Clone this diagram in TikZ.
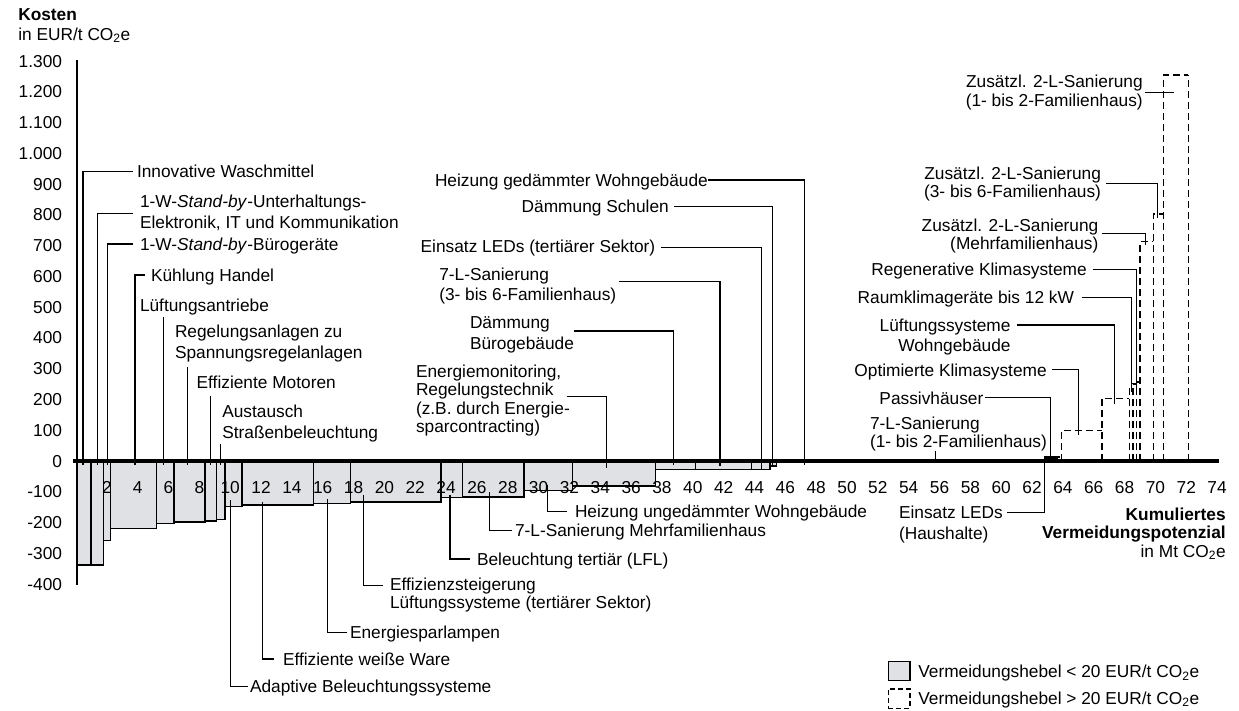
\documentclass[tikz,border=0pt]{standalone}
\usepackage{fontspec}
\setmainfont{Liberation Sans}
\usetikzlibrary{calc}
\definecolor{barfill}{RGB}{224,225,228}
% multi-line label whose baseline is that of its first line
\newcommand{\lblock}[2][l]{\begin{tabular}[t]{@{}#1@{}}#2\end{tabular}}

\begin{document}
\begin{tikzpicture}[x=1pt,y=-1pt,
  every node/.style={inner sep=0pt, outer sep=0pt, font=\fontsize{17.3}{20.5}\selectfont},
  tight/.style={font=\fontsize{17.3}{18.4}\selectfont},
  lab/.style={anchor=base west},
  rlab/.style={anchor=base east},
  lead/.style={draw=black, line width=1.3pt},
  solidbar/.style={draw=black, line width=1.2pt, fill=barfill},
  dashbar/.style={draw=black, line width=1.3pt, dash pattern=on 7pt off 4pt},
]
\useasboundingbox (0,0) rectangle (1239,710);

% ---- bars below 20 EUR/t (filled) ----
\foreach \xa/\xb/\yb in {77/91/565, 91/103.3/565, 103.3/110.7/540.7, 110.7/156.7/528.3,
  156.7/174/523.3, 174/205/522, 205/216.7/521, 216.7/225/519.3, 225/242/506.7,
  242/313.3/505, 313.3/350.7/503.3, 350.7/441/502, 441/462.3/497.3, 462.3/524/497,
  524/572.7/490.7, 572.7/655.7/486, 655.7/695.7/469.3, 695.7/751.7/469.3,
  751.7/770/469.3, 770/776.7/466}
  \draw[solidbar] (\xa,461) rectangle (\xb,\yb);
\fill (1044,456) rectangle (1056,461);

% ---- bars above 20 EUR/t (dashed outline) ----
\foreach \xa/\xb/\yt in {1057/1061.7/457, 1061.7/1102/430.7, 1102/1129.3/398.3,
  1129.3/1133/388, 1133/1136.3/384, 1136.3/1140/382, 1140/1153.3/241.7,
  1153.3/1163.3/214, 1163.3/1188.3/75}
{
  \draw[dashbar] (\xa,461) -- (\xa,\yt) -- (\xb,\yt);
  \draw[dashbar] (\xb,461) -- (\xb,\yt);
}

% ---- axes ----
\coordinate (ytop) at (77,60);
\coordinate (ybot) at (77,585);
\coordinate (xl) at (73,461);
\coordinate (xr) at (1219,461);
\draw[line width=1.3pt] (ytop) -- (ybot);

\foreach \v/\t [count=\i] in {1300/1.300,1200/1.200,1100/1.100,1000/1.000,900/900,800/800,
  700/700,600/600,500/500,400/400,300/300,200/200,100/100,0/0,-100/-100,-200/-200,
  -300/-300,-400/-400}
  \node[rlab] (yl\i) at (62,{467-0.3077*\v}) {\t};
\foreach \u [count=\i] in {2,4,...,74}
  \node[anchor=base] (xl\i) at ({76+15.42*\u},493) {\u};

% ---- axis titles ----
\node[lab, font=\fontsize{17.3}{20}\selectfont] (ytitle) at (18.3,20)
  {\lblock{\textbf{Kosten}\\in EUR/t CO\textsubscript{2}e}};
\node[rlab, font=\fontsize{17.3}{18.5}\selectfont] (xtitle) at (1225.7,520)
  {\lblock[r]{\textbf{Kumuliertes}\\\textbf{Vermeidungspotenzial}\\in Mt CO\textsubscript{2}e}};

% ---- labels, left group ----
\node[lab] (wasch) at (137,177.7) {Innovative Waschmittel};
\node[lab] (standbyA) at (140,207.7)
  {\lblock{1-W-\textit{Stand-by}-Unterhaltungs-\\Elektronik, IT und Kommunikation}};
\node[lab] (standbyB) at (140,250) {1-W-\textit{Stand-by}-Bürogeräte};
\node[lab] (kuehl) at (151,281) {Kühlung Handel};
\node[lab] (lueft) at (140,311) {Lüftungsantriebe};
\node[lab] (regel) at (175,337.7) {\lblock{Regelungsanlagen zu\\Spannungsregelanlagen}};
\node[lab] (motor) at (196.7,388.3) {Effiziente Motoren};
\node[lab] (austausch) at (222.3,417.7) {\lblock{Austausch\\Straßenbeleuchtung}};

% ---- labels below the axis ----
\node[lab] (adaptive) at (250,692.7) {Adaptive Beleuchtungssysteme};
\node[lab] (weiss) at (283,665) {Effiziente weiße Ware};
\node[lab] (esl) at (350,638.3) {Energiesparlampen};
\node[lab, tight] (effl) at (390,590.3)
  {\lblock{Effizienzsteigerung\\Lüftungssysteme (tertiärer Sektor)}};
\node[lab] (beltert) at (477,565) {Beleuchtung tertiär (LFL)};
\node[lab] (sanmfh) at (515,536.7) {7-L-Sanierung Mehrfamilienhaus};
\node[lab] (heizu) at (575,517.7) {Heizung ungedämmter Wohngebäude};

% ---- labels, middle group ----
\node[lab] (heizg) at (435,186) {Heizung gedämmter Wohngebäude};
\node[lab] (schulen) at (521.7,212.7) {Dämmung Schulen};
\node[lab] (ledt) at (420.7,252.7) {Einsatz LEDs (tertiärer Sektor)};
\node[lab] (sanA) at (439.3,280.3) {\lblock{7-L-Sanierung\\(3- bis 6-Familienhaus)}};
\node[lab] (daemb) at (470,328.7) {\lblock{Dämmung\\Bürogebäude}};
\node[lab, font=\fontsize{17.3}{18.5}\selectfont] (emon) at (416,377)
  {\lblock{Energiemonitoring,\\Regelungstechnik\\(z.B. durch Energie-\\sparcontracting)}};

% ---- labels, right group ----
\node[rlab, tight] (zA) at (1142.7,87.7) {\lblock[r]{Zusätzl. 2-L-Sanierung\\(1- bis 2-Familienhaus)}};
\node[rlab, tight] (zB) at (1101,179.3) {\lblock[r]{Zusätzl. 2-L-Sanierung\\(3- bis 6-Familienhaus)}};
\node[rlab, tight] (zC) at (1098.3,231) {\lblock[r]{Zusätzl. 2-L-Sanierung\\(Mehrfamilienhaus)}};
\node[rlab] (regen) at (1086.7,275.3) {Regenerative Klimasysteme};
\node[rlab] (raum) at (1074,303.3) {Raumklimageräte bis 12 kW};
\node[rlab] (lws) at (1010.5,331) {\lblock[r]{Lüftungssysteme\\Wohngebäude}};
\node[rlab] (optk) at (1046.7,376.7) {Optimierte Klimasysteme};
\node[rlab] (passiv) at (983.3,404.3) {Passivhäuser};
\node[lab, tight] (sanB) at (870,429.3) {\lblock{7-L-Sanierung\\(1- bis 2-Familienhaus)}};
\node[lab] (ledh) at (899,518.7) {\lblock{Einsatz LEDs\\(Haushalte)}};

% ---- leader end points on the bars ----
\coordinate (b1) at (83,465);
\coordinate (b2) at (97.7,465);
\coordinate (b3) at (107.7,465);
\coordinate (b4) at (135,465);
\coordinate (b5) at (163.3,465);
\coordinate (b6) at (187.7,465);
\coordinate (b7) at (210.7,465);
\coordinate (b8) at (220.7,465);
\coordinate (b9) at (230.7,500);
\coordinate (b10) at (262.3,501.7);
\coordinate (b11) at (327.7,499.3);
\coordinate (b12) at (363.3,495);
\coordinate (b13) at (450,495);
\coordinate (b14) at (489.3,491.7);
\coordinate (b15) at (547.7,485);
\coordinate (b16) at (804.3,465);
\coordinate (b17) at (772.7,466);
\coordinate (b18) at (761.7,469);
\coordinate (b19) at (720,466);
\coordinate (b20) at (673.3,465);
\coordinate (b21) at (606.7,468);
\coordinate (b22) at (1174,92.3);
\coordinate (b23) at (1157.7,218);
\coordinate (b24) at (1145.7,245);
\coordinate (b25) at (1136.7,388);
\coordinate (b26) at (1131.7,392);
\coordinate (b27) at (1114.3,404);
\coordinate (b28) at (1078.3,435);
\coordinate (b29) at (1050.7,458);
\coordinate (b30) at (935.7,460);
\coordinate (b31) at (1044.3,463);

% ---- leaders ----
\draw[lead] ([xshift=-4pt,yshift=6pt]wasch.base west) -| (b1);
\draw[lead] ([xshift=-6.7pt,yshift=-5.6pt]standbyA.base west) -| (b2);
\draw[lead] ([xshift=-7pt,yshift=6pt]standbyB.base west) -| (b3);
\draw[lead] ([xshift=-5.7pt,yshift=6pt]kuehl.base west) -| (b4);
\draw[lead, shorten <=2.7pt] (b5 |- lueft.south) -- (b5);
\draw[lead, shorten <=3pt] (b6 |- regel.south) -- (b6);
\draw[lead, shorten <=7.4pt] (b7 |- motor.south) -- (b7);
\draw[lead] (b8 |- austausch.south) -- (b8);

\draw[lead] (b9) |- ([xshift=-1.7pt,yshift=6pt]adaptive.base west);
\draw[lead] (b10) |- ([xshift=-9pt,yshift=6pt]weiss.base west);
\draw[lead] (b11) |- ([xshift=-3.3pt,yshift=6pt]esl.base west);
\draw[lead] (b12) |- ([xshift=-6.7pt,yshift=4.6pt]effl.base west);
\draw[lead] (b13) |- ([xshift=-7pt,yshift=6pt]beltert.base west);
\draw[lead] (b14) |- ([xshift=-3.3pt,yshift=6pt]sanmfh.base west);
\draw[lead] (b15) |- ([xshift=-8.3pt,yshift=6pt]heizu.base west);

\draw[lead] ([yshift=6pt]heizg.base east) -| (b16);
\draw[lead] ([xshift=5pt,yshift=6pt]schulen.base east) -| (b17);
\draw[lead] ([xshift=5.7pt,yshift=5.4pt]ledt.base east) -| (b18);
\draw[lead] ([xshift=2.6pt,yshift=-1.4pt]sanA.base east) -| (b19);
\draw[lead] ([yshift=-2.3pt]daemb.base east) -| (b20);
\draw[lead] ([xshift=150.7pt,yshift=-19.7pt]emon.base west) -| (b21);

\draw[lead] ([xshift=2.3pt,yshift=-4.6pt]zA.base east) -| (b22);
\draw[lead] ([xshift=5pt,yshift=-4pt]zB.base east) -| (b23);
\draw[lead] ([xshift=3.4pt,yshift=-2.3pt]zC.base east) -| (b24);
\draw[lead] ([xshift=6pt,yshift=6pt]regen.base east) -| (b25);
\draw[lead] ([xshift=7.7pt,yshift=6pt]raum.base east) -| (b26);
\draw[lead] ([xshift=6.8pt,yshift=6pt]lws.base east) -| (b27);
\draw[lead] ([xshift=5.6pt,yshift=7.4pt]optk.base east) -| (b28);
\draw[lead] ([xshift=1.7pt,yshift=7pt]passiv.base east) -| (b29);
\draw[lead, shorten <=-2pt] (b30 |- sanB.south) -- (b30);
\draw[lead] ([xshift=4pt,yshift=6pt]ledh.base east) -| (b31);

% ---- zero line ----
\draw[line width=4.8pt] (xl) -- (xr);

% ---- legend ----
\node[solidbar, minimum width=21.7pt, minimum height=19pt] (legA) at (899.2,671.2) {};
\node[draw=black, line width=1.3pt, dash pattern=on 5pt off 3pt,
  minimum width=21.7pt, minimum height=19.3pt] (legB) at (899.2,698.7) {};
\node[lab] (legAt) at (918.3,677.7) {Vermeidungshebel < 20 EUR/t CO\textsubscript{2}e};
\node[lab] (legBt) at (918.3,704.3) {Vermeidungshebel > 20 EUR/t CO\textsubscript{2}e};
\end{tikzpicture}
\end{document}
